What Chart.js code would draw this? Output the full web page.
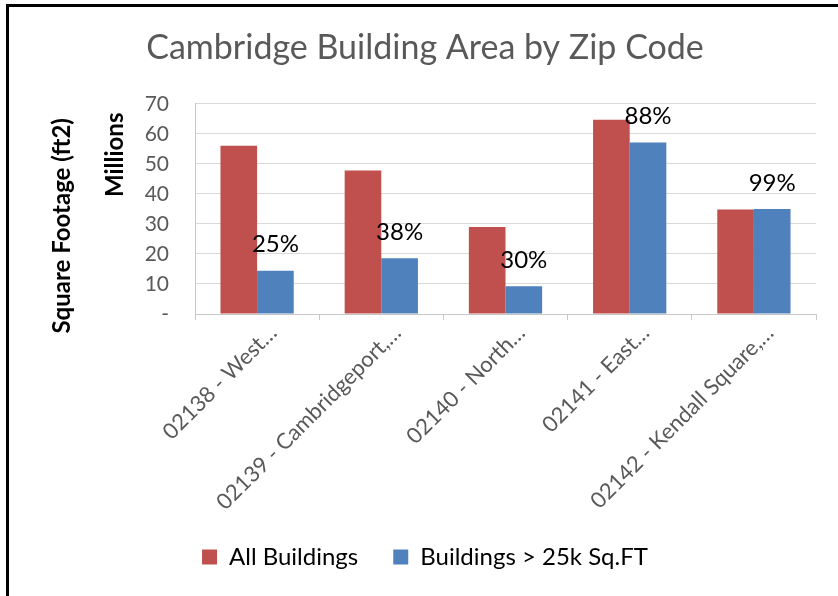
<!DOCTYPE html>
<html>
<head>
<meta charset="utf-8">
<script src="https://cdn.jsdelivr.net/npm/chart.js@4"></script>
<style>
  html, body { margin: 0; padding: 0; background: #fff; }
  #frame { position: absolute; left: 6px; top: 4px; width: 840px; height: 600px; border-left: 3px solid #000; border-top: 3px solid #000; }
  #wrap { position: absolute; left: 0; top: 0; width: 838px; height: 596px; }
</style>
</head>
<body>
<div id="frame"></div>
<div id="wrap"><canvas id="chart" width="838" height="596"></canvas></div>
<script>
// Cambridge building area by zip code, values in millions of sq ft
const zipLabels = ["02138 - West…", "02139 - Cambridgeport,…", "02140 - North…", "02141 - East…", "02142 - Kendall Square,…"];
const allBuildings = [56, 47.8, 29, 64.7, 34.8];
const bigBuildings = [14.4, 18.6, 9.2, 57.1, 35];
const shareLabels = ["25%", "38%", "30%", "88%", "99%"];

const FONT = "Lato, 'Open Sans', sans-serif";
const GREY = "#595959";

// percent labels over the blue bars + Excel-style axis titles
const extras = {
  id: "extras",
  afterDatasetsDraw(chart) {
    const ctx = chart.ctx;
    const meta = chart.getDatasetMeta(1);
    ctx.save();
    ctx.fillStyle = "#000";
    ctx.font = "24px " + FONT;
    ctx.textAlign = "center";
    ctx.textBaseline = "middle";
    meta.data.forEach((bar, i) => ctx.fillText(shareLabels[i], bar.x, bar.y - 26));
    ctx.restore();
  },
  afterDraw(chart) {
    const ctx = chart.ctx, y = chart.scales.y;
    const vtext = (txt, x, cy) => {
      ctx.save();
      ctx.fillStyle = "#000";
      ctx.font = "bold 24px " + FONT;
      ctx.textAlign = "center";
      ctx.textBaseline = "middle";
      ctx.translate(x, cy);
      ctx.rotate(-Math.PI / 2);
      ctx.fillText(txt, 0, 0);
      ctx.restore();
    };
    vtext("Square Footage (ft2)", 62, y.top + 122);
    vtext("Millions", 115, y.top + 51);
  }
};

new Chart(document.getElementById("chart"), {
  type: "bar",
  data: {
    labels: zipLabels,
    datasets: [
      { label: "All Buildings", data: allBuildings, backgroundColor: "#C0504D" },
      { label: "Buildings > 25k Sq.FT", data: bigBuildings, backgroundColor: "#4F81BD" },
    ],
  },
  options: {
    responsive: false,
    animation: false,
    devicePixelRatio: 1,
    layout: { padding: { left: 34, right: 22, top: 0, bottom: 17 } },
    datasets: { bar: { categoryPercentage: 0.59, barPercentage: 1 } },
    scales: {
      x: {
        grid: { display: true, drawOnChartArea: false, offset: true, tickLength: 6, color: "#c8c8c8" },
        border: { color: "#c8c8c8" },
        ticks: { color: GREY, font: { family: FONT, size: 22 }, minRotation: 45, maxRotation: 45, padding: 0, labelOffset: 16 },
        afterFit: s => { s.height = 196; },
      },
      y: {
        min: 0, max: 70,
        grid: { color: "#d9d9d9", drawTicks: false },
        border: { color: "#c8c8c8" },
        ticks: {
          stepSize: 10, color: GREY, padding: 26,
          font: { family: FONT, size: 21 },
          callback: v => (v === 0 ? "-" : v),
        },
        afterFit: s => { s.width = 161; },
      },
    },
    plugins: {
      title: {
        display: true,
        text: "Cambridge Building Area by Zip Code",
        color: GREY,
        font: { family: FONT, size: 34, weight: "normal" },
        padding: { top: 28, bottom: 35 },
      },
      legend: {
        position: "bottom",
        labels: { color: "#000", font: { family: FONT, size: 24 }, boxWidth: 15, boxHeight: 15, padding: 35 },
      },
      tooltip: { enabled: false },
    },
  },
  plugins: [extras],
});
</script>
</body>
</html>
